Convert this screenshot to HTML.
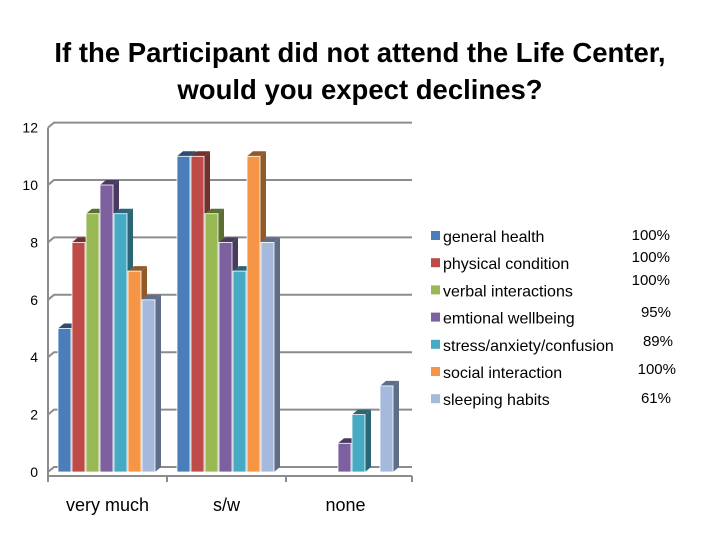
<!DOCTYPE html>
<html><head><meta charset="utf-8"><style>
body{margin:0;background:#fff;width:720px;height:540px;overflow:hidden;font-family:"Liberation Sans",sans-serif}
</style></head><body>
<svg width="720" height="540">
<text x="360" y="62" text-anchor="middle" font-size="27.5" font-weight="bold" fill="#000">If the Participant did not attend the Life Center,</text>
<text x="360" y="99" text-anchor="middle" font-size="27.5" font-weight="bold" fill="#000">would you expect declines?</text>
<g id="plot"></g>
<g id="legend"></g>
</svg>
<script>
const categories=["very much","s/w","none"];
const seriesNames=["general health","physical condition","verbal interactions","emtional wellbeing","stress/anxiety/confusion","social interaction","sleeping habits"];
const percents=["100%","100%","100%","95%","89%","100%","61%"];
const s0=[5,11,0],s1=[8,11,0],s2=[9,9,0],s3=[10,8,1],s4=[9,7,2],s5=[7,11,0],s6=[6,8,3];
const series=[s0,s1,s2,s3,s4,s5,s6];
const colors=["#4a7ebb","#be4b48","#98b954","#7d60a0","#46aac5","#f69545","#a5b9dd"];
const dark=["#2c4c70","#72302e","#5b6f32","#4b3a60","#2a6676","#935a29","#5e6e86"];
const yTicks=[0,2,4,6,8,10,12];
const NS="http://www.w3.org/2000/svg";
const plot=document.getElementById('plot');
const y0=472,unit=28.7,x0=48,xEnd=412,groupW=119,bw=13,step=14,firstOff=10,dx=6,dy=-5;
const yS=v=>y0-v*unit;
function mk(t,a,p){const e=document.createElementNS(NS,t);for(const k in a)e.setAttribute(k,a[k]);(p||plot).appendChild(e);return e;}
yTicks.forEach(v=>{
 const y=yS(v);
 const g=mk('path',{d:`M${x0},${y} L${x0+dx},${y+dy} L${xEnd},${y+dy}`,stroke:'#8c8c8c','stroke-width':2,fill:'none'});
 
 const t=mk('text',{x:x0-10,y:y+5,'text-anchor':'end','font-size':14,fill:'#000'});t.textContent=v;
 
});
mk('line',{x1:x0,y1:yS(12),x2:x0,y2:y0+4,stroke:'#8c8c8c','stroke-width':2});
mk('line',{x1:x0,y1:y0+4,x2:xEnd,y2:y0+4,stroke:'#8c8c8c','stroke-width':2});
categories.forEach((c,i)=>{
 mk('line',{x1:x0+groupW*i,y1:y0+4,x2:x0+groupW*i,y2:y0+10,stroke:'#8c8c8c','stroke-width':2});
 const t=mk('text',{x:x0+groupW*(i+0.5),y:511,'text-anchor':'middle','font-size':18,fill:'#000'});t.textContent=c;
 
});
mk('line',{x1:xEnd,y1:y0+4,x2:xEnd,y2:y0+10,stroke:'#8c8c8c','stroke-width':2});
categories.forEach((c,ci)=>{
 series.forEach((s,si)=>{
  const v=s[ci];if(!v)return;
  const x=x0+groupW*ci+firstOff+step*si,y=yS(v),b=y0;
  const g=mk('g',{});
  
  mk('polygon',{points:`${x+bw},${y} ${x+bw+dx},${y+dy} ${x+bw+dx},${b+dy} ${x+bw},${b}`,fill:dark[si]},g);
  mk('polygon',{points:`${x},${y} ${x+dx},${y+dy} ${x+bw+dx},${y+dy} ${x+bw},${y}`,fill:dark[si]},g);
  mk('rect',{x:x,y:y,width:bw,height:b-y,fill:colors[si],stroke:'#fff','stroke-width':0.8},g);
 });
});
const leg=document.getElementById('legend');
seriesNames.forEach((n,i)=>{
 const y=237+27.2*i;
 const r=mk('rect',{x:431,y:y-6,width:9,height:9,fill:colors[i]},leg);
 
 const t=mk('text',{x:443,y:y+5,'font-size':16,fill:'#000',textLength:0},leg);t.textContent=n;
 t.removeAttribute('textLength');
 
});
const pY=[240,262,285,317,346,374,403],pX=[670,670,670,671,673,676,671];
percents.forEach((p,i)=>{
 const t=mk('text',{x:pX[i],y:pY[i],'text-anchor':'end','font-size':15,fill:'#000'},leg);t.textContent=p;
 
});
</script>
</body></html>
